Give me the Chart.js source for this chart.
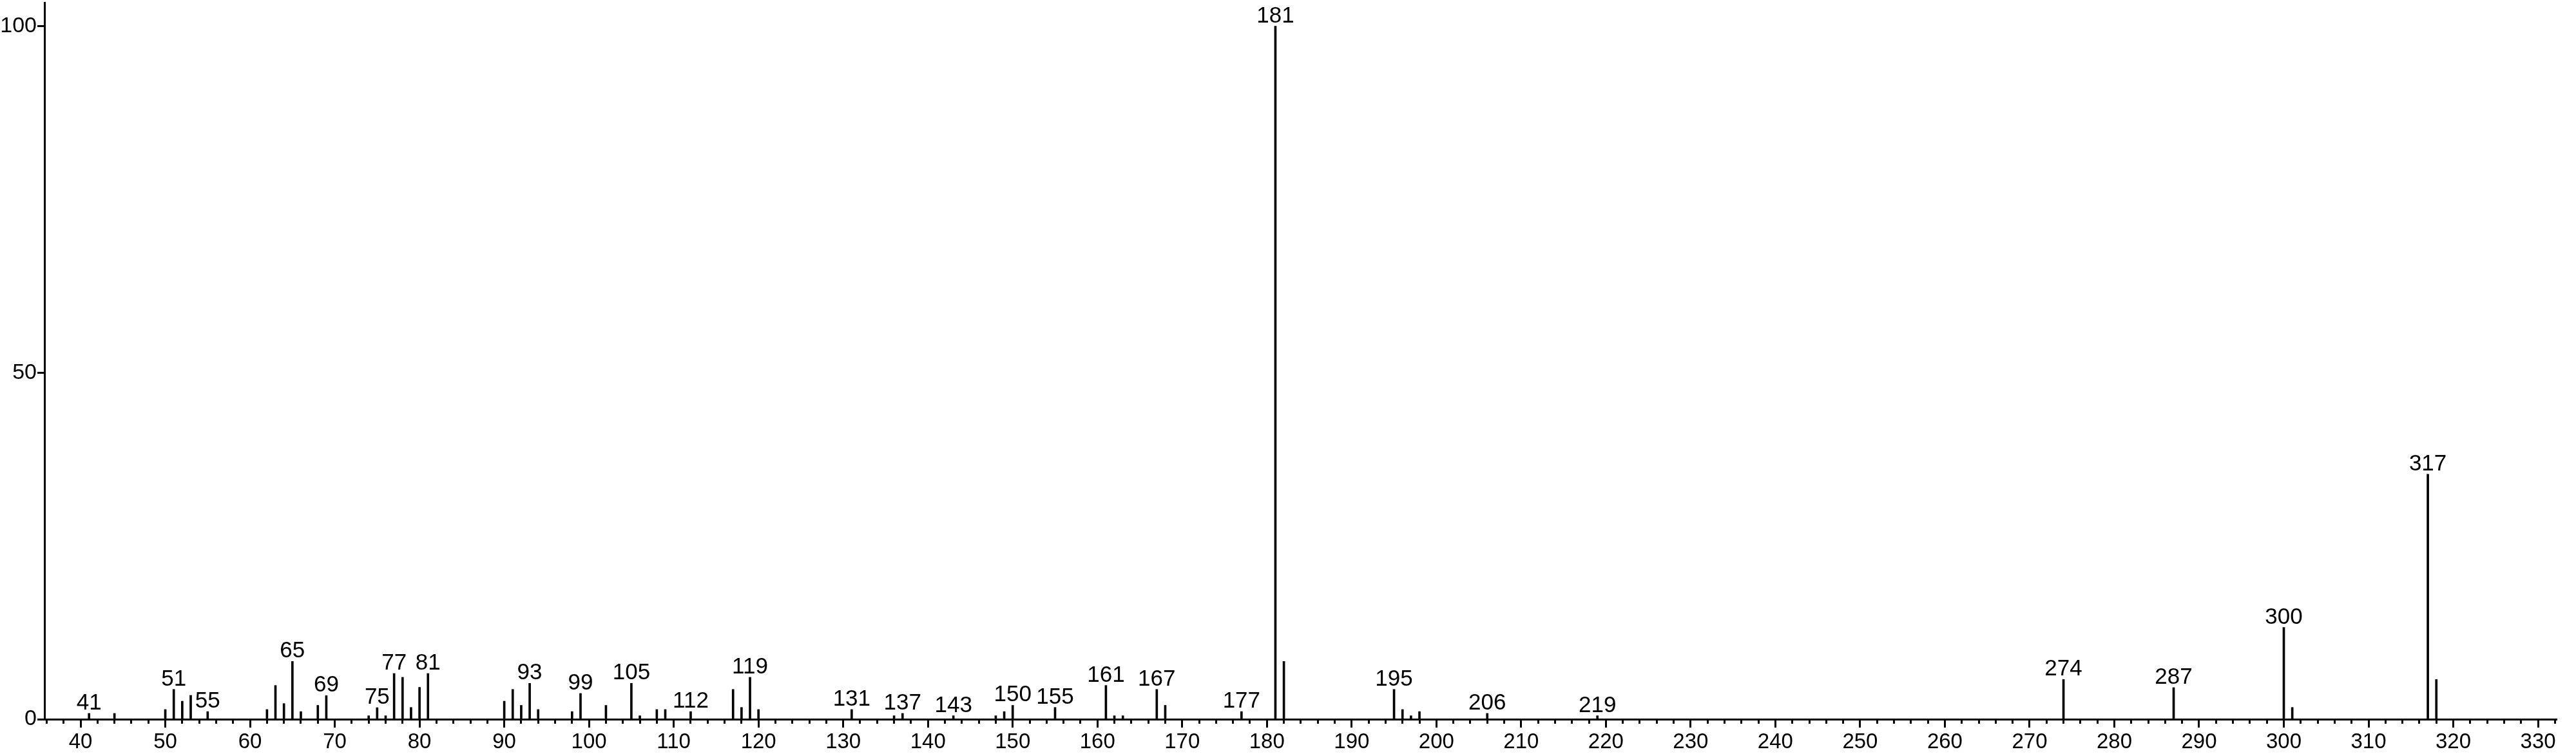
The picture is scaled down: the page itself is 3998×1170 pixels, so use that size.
<!DOCTYPE html>
<html>
<head>
<meta charset="utf-8">
<script src="https://cdn.jsdelivr.net/npm/chart.js@4.4.1/dist/chart.umd.min.js"></script>
<style>
  body { margin: 0; background: #fff; }
  #wrap { width: 3998px; height: 1170px; position: relative; }
</style>
</head>
<body>
<div id="wrap"><canvas id="spectrum"></canvas></div>
<script>
// m/z values and relative intensities
const mz = [41, 44, 50, 51, 52, 53, 55, 62, 63, 64, 65, 66, 68, 69, 74, 75, 76, 77, 78, 79, 80, 81,
  90, 91, 92, 93, 94, 98, 99, 102, 105, 106, 108, 109, 112, 117, 118, 119, 120,
  131, 136, 137, 143, 148, 149, 150, 155, 161, 162, 163, 167, 168, 177, 181, 182,
  195, 196, 197, 198, 206, 219, 274, 287, 300, 301, 317, 318];
const intensity = [0.84, 0.84, 1.4, 4.3, 2.6, 3.44, 1.1, 1.4, 4.87, 2.26, 8.34, 1.1, 2.0, 3.4, 0.5, 1.67, 0.5, 6.6, 6.05, 1.7, 4.6, 6.6,
  2.6, 4.3, 2.0, 5.18, 1.4, 1.1, 3.72, 2.0, 5.18, 0.5, 1.4, 1.4, 1.1, 4.3, 1.7, 6.05, 1.4,
  1.4, 0.5, 0.84, 0.5, 0.5, 1.1, 2.0, 1.7, 4.87, 0.5, 0.5, 4.3, 2.0, 1.1, 100, 8.34,
  4.3, 1.4, 0.5, 1.1, 0.84, 0.5, 5.74, 4.56, 13.24, 1.7, 35.35, 5.74];
// peaks that carry a text label
const labeledPeaks = [41, 51, 55, 65, 69, 75, 77, 81, 93, 99, 105, 112, 119, 131, 137, 143, 150, 155,
  161, 167, 177, 181, 195, 206, 219, 274, 287, 300, 317];
// axis ticks
const xMajorTicks = [40, 50, 60, 70, 80, 90, 100, 110, 120, 130, 140, 150, 160, 170, 180, 190, 200,
  210, 220, 230, 240, 250, 260, 270, 280, 290, 300, 310, 320, 330];
const yTicks = [0, 50, 100];

const xMin = 35.74, xMax = 332.2;
const xMinorTicks = [];
for (let v = 36; v <= 332; v += 2) xMinorTicks.push(v);

const fontFamily = '"Liberation Sans", Arial, sans-serif';

Chart.defaults.color = "#000";

// m/z label above each marked peak
const peakLabels = {
  id: "peakLabels",
  afterDatasetsDraw(chart) {
    const ctx = chart.ctx;
    const xs = chart.scales.x, ys = chart.scales.y;
    ctx.save();
    ctx.fillStyle = "#000";
    ctx.font = "35px " + fontFamily;
    ctx.textAlign = "center";
    ctx.textBaseline = "alphabetic";
    labeledPeaks.forEach((m) => {
      const v = intensity[mz.indexOf(m)];
      ctx.fillText(String(m), xs.getPixelForValue(m), ys.getPixelForValue(v) - 6);
    });
    ctx.restore();
  },
};

let spectrumChart = new Chart(document.getElementById("spectrum"), {
  type: "bar",
  data: {
    datasets: [
      {
        data: mz.map((m, i) => ({ x: m, y: intensity[i] })),
        backgroundColor: "#000",
        borderWidth: 0,
        barThickness: 3,
        grouped: false,
      },
    ],
  },
  options: {
    responsive: true,
    maintainAspectRatio: false,
    animation: false,
    layout: { padding: { top: 4, right: 30, left: 0, bottom: 0 } },
    plugins: { legend: { display: false }, tooltip: { enabled: false } },
    scales: {
      x: {
        type: "linear",
        position: "bottom",
        offset: false,
        weight: 1,
        min: xMin,
        max: xMax,
        afterBuildTicks: (s) => { s.ticks = xMajorTicks.map((v) => ({ value: v })); },
        afterFit: (s) => { s.height = 54; },
        grid: { offset: false, drawOnChartArea: false, tickLength: 13, tickWidth: 3, tickColor: "#000" },
        border: { color: "#000", width: 3 },
        ticks: { autoSkip: false, maxRotation: 0, padding: 3, color: "#000", font: { family: fontFamily, size: 33 } },
      },
      xm: {
        type: "linear",
        position: "bottom",
        offset: false,
        weight: 0,
        min: xMin,
        max: xMax,
        afterBuildTicks: (s) => { s.ticks = xMinorTicks.map((v) => ({ value: v })); },
        afterFit: (s) => { s.height = 0; },
        grid: { offset: false, drawOnChartArea: false, tickLength: 7, tickWidth: 3, tickColor: "#000" },
        border: { display: false },
        ticks: { display: false },
      },
      y: {
        min: 0,
        max: 103.4,
        afterBuildTicks: (s) => { s.ticks = yTicks.map((v) => ({ value: v })); },
        afterFit: (s) => { s.width = 69; s.paddingTop = 0; s.paddingBottom = 0; },
        grid: { drawOnChartArea: false, tickLength: 11, tickWidth: 3, tickColor: "#000" },
        border: { color: "#000", width: 3 },
        ticks: { padding: 1, color: "#000", font: { family: fontFamily, size: 34 } },
      },
    },
  },
  plugins: [peakLabels],
});
</script>
</body>
</html>
